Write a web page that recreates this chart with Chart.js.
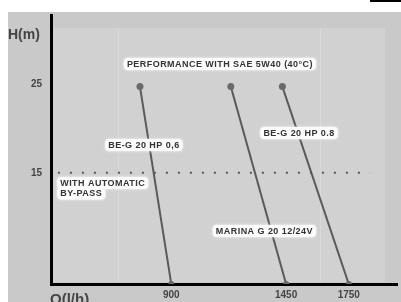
<!DOCTYPE html>
<html>
<head>
<meta charset="utf-8">
<script src="https://cdn.jsdelivr.net/npm/chart.js@4.4.1/dist/chart.umd.min.js"></script>
<style>
html,body{margin:0;padding:0;background:#fff;}
#wrap{width:401px;height:302px;position:relative;}
</style>
</head>
<body>
<div id="wrap"><canvas id="c" width="401" height="302"></canvas></div>
<script>
// Data
const xTickValues = [900, 1450, 1750];        // Q (l/h) tick labels
const yTickValues = [15, 25];                 // H (m) tick labels
const seriesNames = ['BE-G 20 HP 0,6', 'MARINA G 20 12/24V', 'BE-G 20 HP 0.8'];
const topQ    = [750, 1185, 1432];           // flow at top point
const topH    = [24.7, 24.7, 24.7];          // head at top point
const bottomQ = [900, 1450, 1750];           // flow at axis
const bottomH = [2.5, 2.5, 2.5];             // head at axis
const bypassH = [15, 15];                    // automatic by-pass level
const bypassQ = [357, 1852];

const lineColor = '#5a5a5a';

const datasets = seriesNames.map((n, i) => ({
  label: n,
  data: [{x: topQ[i], y: topH[i]}, {x: bottomQ[i], y: bottomH[i]}],
  borderColor: lineColor,
  borderWidth: 2,
  pointRadius: [3.5, 3],
  pointBackgroundColor: '#6a6a6a',
  pointBorderWidth: 0,
  showLine: true,
  fill: false
}));
datasets.push({
  label: 'by-pass',
  data: bypassQ.map((q, i) => ({x: q, y: bypassH[i]})),
  borderColor: '#555',
  borderWidth: 2,
  borderDash: [2, 10],
  borderCapStyle: 'butt',
  pointRadius: 0,
  showLine: true,
  fill: false
});

const bgPlugin = {
  id: 'bg',
  beforeDraw(chart) {
    const ctx = chart.ctx;
    ctx.save();
    ctx.fillStyle = '#ffffff';
    ctx.fillRect(0, 0, 401, 302);
    ctx.fillStyle = '#c9c9c9';
    ctx.fillRect(8, 12, 393, 290);
    ctx.fillStyle = '#d1d1d1';
    ctx.fillRect(53, 28, 332, 254);
    ctx.strokeStyle = 'rgba(255,255,255,0.18)';
    ctx.lineWidth = 1;
    ctx.beginPath();
    ctx.moveTo(118.5, 28); ctx.lineTo(118.5, 282);
    ctx.moveTo(320.5, 28); ctx.lineTo(320.5, 282);
    ctx.stroke();
    ctx.fillStyle = '#000';
    ctx.fillRect(370, 0, 31, 2);
    ctx.restore();
  }
};

function box(ctx, text, cx, cy, align) {
  ctx.font = 'bold 9px "Liberation Sans", Arial, sans-serif';
  ctx.letterSpacing = '0.45px';
  const w = ctx.measureText(text).width;
  const x0 = align === 'left' ? cx : cx - w / 2;
  ctx.save();
  ctx.shadowColor = 'rgba(255,255,255,0.9)';
  ctx.shadowBlur = 3;
  ctx.fillStyle = '#fbfbfb';
  ctx.beginPath();
  ctx.roundRect(x0 - 3, cy - 6, w + 6, 12, 4);
  ctx.fill();
  ctx.restore();
  ctx.fillStyle = '#333';
  ctx.textBaseline = 'middle';
  ctx.textAlign = 'left';
  ctx.fillText(text, x0, cy + 0.5);
}

const textPlugin = {
  id: 'texts',
  afterDatasetsDraw(chart) {
    const ctx = chart.ctx;
    const xs = chart.scales.x, ys = chart.scales.y;
    ctx.save();
    // axis titles
    ctx.fillStyle = '#444';
    ctx.font = 'bold 14px "Liberation Sans", Arial, sans-serif';
    ctx.textBaseline = 'middle';
    ctx.textAlign = 'left';
    ctx.fillText('H(m)', 8, 35);
    ctx.font = 'bold 15px "Liberation Sans", Arial, sans-serif';
    ctx.fillText('Q(l/h)', 50, 300);
    // annotations placed in data space
    box(ctx, 'PERFORMANCE WITH SAE 5W40 (40°C)', xs.getPixelForValue(1133), ys.getPixelForValue(27.24));
    box(ctx, seriesNames[0], xs.getPixelForValue(769), ys.getPixelForValue(18.13));
    box(ctx, seriesNames[2], xs.getPixelForValue(1512), ys.getPixelForValue(19.48));
    box(ctx, 'WITH AUTOMATIC', xs.getPixelForValue(368), ys.getPixelForValue(13.86), 'left');
    box(ctx, 'BY-PASS', xs.getPixelForValue(368), ys.getPixelForValue(12.68), 'left');
    box(ctx, seriesNames[1], xs.getPixelForValue(1346), ys.getPixelForValue(8.46));
    ctx.restore();
  }
};

new Chart(document.getElementById('c'), {
  type: 'scatter',
  data: { datasets },
  options: {
    responsive: false,
    animation: false,
    devicePixelRatio: 1,
    layout: { padding: { top: 15, right: 0, left: 0, bottom: 0 } },
    plugins: { legend: { display: false }, tooltip: { enabled: false } },
    scales: {
      x: {
        type: 'linear',
        min: 324, max: 1981,
        afterBuildTicks(s) { s.ticks = xTickValues.map(v => ({value: v})); },
        afterFit(s) { s.height = 18; },
        grid: { display: false, drawTicks: false },
        border: { display: true, color: '#000', width: 3 },
        ticks: {
          padding: 5,
          color: '#444',
          font: { family: '"Liberation Sans", Arial, sans-serif', size: 10, weight: 'bold' },
          callback: v => String(v)
        }
      },
      y: {
        type: 'linear',
        min: 2.5, max: 32.75,
        afterBuildTicks(s) { s.ticks = yTickValues.map(v => ({value: v})); },
        afterFit(s) { s.width = 51; },
        grid: { display: false, drawTicks: false },
        border: { display: true, color: '#000', width: 3 },
        ticks: {
          padding: 9,
          color: '#444',
          font: { family: '"Liberation Sans", Arial, sans-serif', size: 10, weight: 'bold' },
          callback: v => String(v)
        }
      }
    }
  },
  plugins: [bgPlugin, textPlugin]
});
</script>
</body>
</html>
